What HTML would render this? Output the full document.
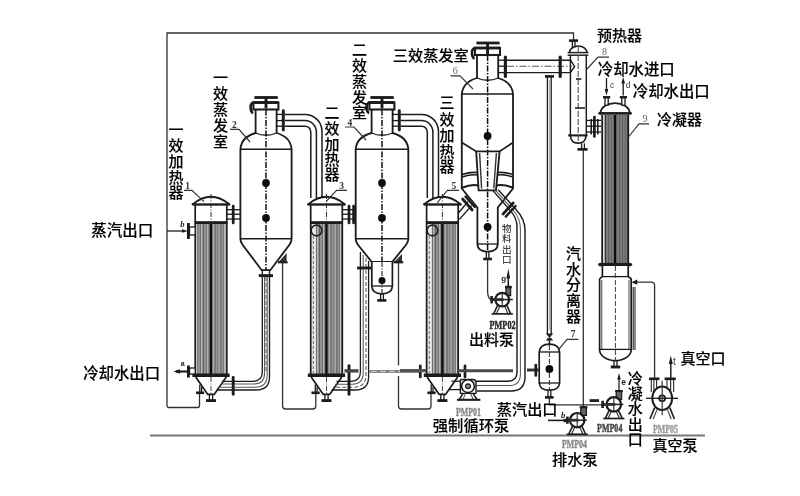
<!DOCTYPE html>
<html lang="zh"><head><meta charset="utf-8"><title>三效蒸发器流程图</title>
<style>
html,body{margin:0;padding:0;background:#fff;}
body{width:800px;height:496px;overflow:hidden;}
svg{display:block;}
.cj{font-family:"Liberation Sans","Noto Sans CJK SC",sans-serif;font-weight:500;fill:#000;stroke:#000;stroke-width:0.14px;}
.cjs{font-family:"Liberation Sans","Noto Sans CJK SC",sans-serif;font-weight:400;fill:#111;}
.smi{font-family:"Liberation Serif",serif;font-style:italic;font-weight:700;fill:#222;}
.sm{font-family:"Liberation Sans",sans-serif;font-weight:700;fill:#222;}
.num{font-family:"Liberation Serif",serif;fill:#333;font-weight:700;}
.numl{font-family:"Liberation Serif",serif;fill:#666;}
.sm2{font-family:"Liberation Sans",sans-serif;fill:#444;}
.pmp{font-family:"Liberation Serif",serif;font-weight:700;}
</style></head>
<body>
<svg width="800" height="496" viewBox="0 0 800 496">
<defs>
<filter id="soft" x="0" y="0" width="800" height="496" filterUnits="userSpaceOnUse"><feGaussianBlur stdDeviation="0.45"/></filter>
<pattern id="tubes" width="5.8" height="8" patternUnits="userSpaceOnUse">
<rect width="5.8" height="8" fill="#949494"/><rect x="0" width="1" height="8" fill="#606060"/><rect x="2.9" width="1" height="8" fill="#6c6c6c"/><rect x="3.9" width="0.9" height="8" fill="#bcbcbc"/>
</pattern>
<pattern id="tubes2" width="2.8" height="8" patternUnits="userSpaceOnUse" x="602.2">
<rect width="2.8" height="8" fill="#848484"/><rect x="0" width="1.2" height="8" fill="#5a5a5a"/>
</pattern>
</defs>
<rect width="800" height="496" fill="#fff"/>
<g filter="url(#soft)">
<line x1="150" y1="435.5" x2="705" y2="435.5" stroke="#777" stroke-width="2.08" />
<path d="M199.5,394 V405.5 Q199.5,407.5 197.5,407.5 H169 Q167,407.5 167,405.5 V33 H573.5 V40" stroke="#333" stroke-width="1.3" fill="none" />
<path d="M282.6,262 V406 Q282.6,409 285.6,409 H312.8 Q315.8,409 315.8,406 V393" stroke="#333" stroke-width="1.3" fill="none" />
<path d="M398.5,262 V365.5 M398.5,376 V406 Q398.5,409 401.5,409 H428 Q431,409 431,406 V393" stroke="#333" stroke-width="1.3" fill="none" />
<rect x="195.2" y="223" width="31.6" height="151.5" stroke="none" stroke-width="0.0" fill="url(#tubes)" />
<line x1="196.7" y1="223" x2="196.7" y2="374" stroke="#d8d8d8" stroke-width="1.04" />
<line x1="225.10000000000002" y1="223" x2="225.10000000000002" y2="374" stroke="#d0d0d0" stroke-width="1.04" />
<line x1="195.2" y1="223" x2="195.2" y2="374" stroke="#1a1a1a" stroke-width="1.69" />
<line x1="226.8" y1="223" x2="226.8" y2="374" stroke="#1a1a1a" stroke-width="1.69" />
<line x1="211" y1="223" x2="211" y2="374" stroke="#0a0a0a" stroke-width="2.21" />
<rect x="195.2" y="204.5" width="31.6" height="18" stroke="#1a1a1a" stroke-width="1.69" fill="#fff" />
<line x1="194.7" y1="222.6" x2="227.3" y2="222.6" stroke="#1a1a1a" stroke-width="2.69" />
<path d="M193.2,204 Q211,189.6 228.8,204" stroke="#1a1a1a" stroke-width="1.82" fill="none" />
<line x1="192.7" y1="204.5" x2="229.3" y2="204.5" stroke="#1a1a1a" stroke-width="2.08" />
<circle cx="193.0" cy="204.3" r="1.3" stroke="none" stroke-width="0.0" fill="#1a1a1a"/>
<circle cx="229.0" cy="204.3" r="1.3" stroke="none" stroke-width="0.0" fill="#1a1a1a"/>
<line x1="211" y1="194" x2="211" y2="222" stroke="#333" stroke-width="1.04" stroke-dasharray="5 1.5 1 1.5"/>
<line x1="192.39999999999998" y1="375.2" x2="229.60000000000002" y2="375.2" stroke="#1a1a1a" stroke-width="3.36" />
<path d="M195.7,377 L207.8,394.4 H214.2 L226.3,377" stroke="#1a1a1a" stroke-width="1.69" fill="none" />
<line x1="209.4" y1="394.4" x2="209.4" y2="400" stroke="#1a1a1a" stroke-width="1.3" />
<line x1="212.6" y1="394.4" x2="212.6" y2="400" stroke="#1a1a1a" stroke-width="1.3" />
<line x1="206" y1="400.6" x2="216" y2="400.6" stroke="#1a1a1a" stroke-width="2.86" />
<line x1="211" y1="377" x2="211" y2="394" stroke="#333" stroke-width="0.91" stroke-dasharray="5 1.5 1 1.5"/>
<line x1="199.8" y1="384.5" x2="199.8" y2="392" stroke="#1a1a1a" stroke-width="1.3" />
<line x1="201.6" y1="387" x2="201.6" y2="392" stroke="#1a1a1a" stroke-width="1.3" />
<line x1="196" y1="392.8" x2="204.2" y2="392.8" stroke="#1a1a1a" stroke-width="2.6" />
<rect x="310.7" y="223" width="31.6" height="151.5" stroke="none" stroke-width="0.0" fill="url(#tubes)" />
<rect x="311.3" y="223.5" width="4.6" height="150.5" stroke="none" stroke-width="0.0" fill="#e9e9e9" />
<line x1="313.3" y1="236" x2="313.3" y2="373" stroke="#666" stroke-width="1.04" stroke-dasharray="3 2"/>
<line x1="312.2" y1="223" x2="312.2" y2="374" stroke="#d8d8d8" stroke-width="1.04" />
<line x1="340.6" y1="223" x2="340.6" y2="374" stroke="#d0d0d0" stroke-width="1.04" />
<line x1="310.7" y1="223" x2="310.7" y2="374" stroke="#1a1a1a" stroke-width="1.69" />
<line x1="342.3" y1="223" x2="342.3" y2="374" stroke="#1a1a1a" stroke-width="1.69" />
<line x1="326.5" y1="223" x2="326.5" y2="374" stroke="#0a0a0a" stroke-width="2.21" />
<rect x="310.7" y="204.5" width="31.6" height="18" stroke="#1a1a1a" stroke-width="1.69" fill="#fff" />
<line x1="310.2" y1="222.6" x2="342.8" y2="222.6" stroke="#1a1a1a" stroke-width="2.69" />
<path d="M308.7,204 Q326.5,189.6 344.3,204" stroke="#1a1a1a" stroke-width="1.82" fill="none" />
<line x1="308.2" y1="204.5" x2="344.8" y2="204.5" stroke="#1a1a1a" stroke-width="2.08" />
<circle cx="308.5" cy="204.3" r="1.3" stroke="none" stroke-width="0.0" fill="#1a1a1a"/>
<circle cx="344.5" cy="204.3" r="1.3" stroke="none" stroke-width="0.0" fill="#1a1a1a"/>
<line x1="326.5" y1="194" x2="326.5" y2="222" stroke="#333" stroke-width="1.04" stroke-dasharray="5 1.5 1 1.5"/>
<circle cx="316.5" cy="230.5" r="5.4" stroke="#1a1a1a" stroke-width="1.56" fill="none"/>
<line x1="307.9" y1="375.2" x2="345.1" y2="375.2" stroke="#1a1a1a" stroke-width="3.36" />
<path d="M311.2,377 L323.3,394.4 H329.7 L341.8,377" stroke="#1a1a1a" stroke-width="1.69" fill="none" />
<line x1="324.9" y1="394.4" x2="324.9" y2="400" stroke="#1a1a1a" stroke-width="1.3" />
<line x1="328.1" y1="394.4" x2="328.1" y2="400" stroke="#1a1a1a" stroke-width="1.3" />
<line x1="321.5" y1="400.6" x2="331.5" y2="400.6" stroke="#1a1a1a" stroke-width="2.86" />
<line x1="326.5" y1="377" x2="326.5" y2="394" stroke="#333" stroke-width="0.91" stroke-dasharray="5 1.5 1 1.5"/>
<line x1="315.3" y1="384.5" x2="315.3" y2="392" stroke="#1a1a1a" stroke-width="1.3" />
<line x1="317.1" y1="387" x2="317.1" y2="392" stroke="#1a1a1a" stroke-width="1.3" />
<line x1="311.5" y1="392.8" x2="319.7" y2="392.8" stroke="#1a1a1a" stroke-width="2.6" />
<rect x="426.59999999999997" y="223" width="31.6" height="151.5" stroke="none" stroke-width="0.0" fill="url(#tubes)" />
<rect x="427.2" y="223.5" width="4.6" height="150.5" stroke="none" stroke-width="0.0" fill="#e9e9e9" />
<line x1="429.2" y1="236" x2="429.2" y2="373" stroke="#666" stroke-width="1.04" stroke-dasharray="3 2"/>
<line x1="428.09999999999997" y1="223" x2="428.09999999999997" y2="374" stroke="#d8d8d8" stroke-width="1.04" />
<line x1="456.5" y1="223" x2="456.5" y2="374" stroke="#d0d0d0" stroke-width="1.04" />
<line x1="426.59999999999997" y1="223" x2="426.59999999999997" y2="374" stroke="#1a1a1a" stroke-width="1.69" />
<line x1="458.2" y1="223" x2="458.2" y2="374" stroke="#1a1a1a" stroke-width="1.69" />
<line x1="442.4" y1="223" x2="442.4" y2="374" stroke="#0a0a0a" stroke-width="2.21" />
<rect x="426.59999999999997" y="204.5" width="31.6" height="18" stroke="#1a1a1a" stroke-width="1.69" fill="#fff" />
<line x1="426.09999999999997" y1="222.6" x2="458.7" y2="222.6" stroke="#1a1a1a" stroke-width="2.69" />
<path d="M424.59999999999997,204 Q442.4,189.6 460.2,204" stroke="#1a1a1a" stroke-width="1.82" fill="none" />
<line x1="424.09999999999997" y1="204.5" x2="460.7" y2="204.5" stroke="#1a1a1a" stroke-width="2.08" />
<circle cx="424.4" cy="204.3" r="1.3" stroke="none" stroke-width="0.0" fill="#1a1a1a"/>
<circle cx="460.4" cy="204.3" r="1.3" stroke="none" stroke-width="0.0" fill="#1a1a1a"/>
<line x1="442.4" y1="194" x2="442.4" y2="222" stroke="#333" stroke-width="1.04" stroke-dasharray="5 1.5 1 1.5"/>
<circle cx="432.4" cy="230.5" r="5.4" stroke="#1a1a1a" stroke-width="1.56" fill="none"/>
<line x1="423.79999999999995" y1="375.2" x2="461.0" y2="375.2" stroke="#1a1a1a" stroke-width="3.36" />
<path d="M427.09999999999997,377 L439.2,394.4 H445.59999999999997 L457.7,377" stroke="#1a1a1a" stroke-width="1.69" fill="none" />
<line x1="440.79999999999995" y1="394.4" x2="440.79999999999995" y2="400" stroke="#1a1a1a" stroke-width="1.3" />
<line x1="444.0" y1="394.4" x2="444.0" y2="400" stroke="#1a1a1a" stroke-width="1.3" />
<line x1="437.4" y1="400.6" x2="447.4" y2="400.6" stroke="#1a1a1a" stroke-width="2.86" />
<line x1="442.4" y1="377" x2="442.4" y2="394" stroke="#333" stroke-width="0.91" stroke-dasharray="5 1.5 1 1.5"/>
<line x1="431.2" y1="384.5" x2="431.2" y2="392" stroke="#1a1a1a" stroke-width="1.3" />
<line x1="433.0" y1="387" x2="433.0" y2="392" stroke="#1a1a1a" stroke-width="1.3" />
<line x1="427.4" y1="392.8" x2="435.59999999999997" y2="392.8" stroke="#1a1a1a" stroke-width="2.6" />
<line x1="167" y1="231" x2="184" y2="231" stroke="#1a1a1a" stroke-width="1.3" />
<path d="M188,231 L182,229.2 V232.8 Z" stroke="none" stroke-width="0.0" fill="#1a1a1a" />
<line x1="188.4" y1="223" x2="188.4" y2="239" stroke="#1a1a1a" stroke-width="2.86" />
<rect x="189.5" y="227" width="5.7" height="8" stroke="#1a1a1a" stroke-width="1.3" fill="#fff" />
<text x="182.4" y="227" font-size="8.5" text-anchor="middle" class="smi" >b</text>
<line x1="176" y1="371.5" x2="188" y2="371.5" stroke="#1a1a1a" stroke-width="2.08" />
<path d="M173.5,371.5 L180,369.3 V373.7 Z" stroke="none" stroke-width="0.0" fill="#1a1a1a" />
<line x1="188.4" y1="365.5" x2="188.4" y2="377.5" stroke="#1a1a1a" stroke-width="2.86" />
<rect x="189.5" y="368" width="5.7" height="6" stroke="#1a1a1a" stroke-width="1.3" fill="#fff" />
<text x="182.6" y="366" font-size="7" text-anchor="middle" class="sm" >a</text>
<line x1="226.8" y1="209.7" x2="240.5" y2="209.7" stroke="#1a1a1a" stroke-width="1.3" />
<line x1="226.8" y1="214.2" x2="240.5" y2="214.2" stroke="#1a1a1a" stroke-width="1.3" />
<line x1="226.8" y1="219" x2="240.5" y2="219" stroke="#1a1a1a" stroke-width="1.3" />
<line x1="233.2" y1="206" x2="233.2" y2="223" stroke="#1a1a1a" stroke-width="2.69" stroke-linecap="round"/>
<line x1="342.3" y1="209.7" x2="355.6" y2="209.7" stroke="#1a1a1a" stroke-width="1.3" />
<line x1="342.3" y1="214.2" x2="355.6" y2="214.2" stroke="#1a1a1a" stroke-width="1.3" />
<line x1="342.3" y1="219" x2="355.6" y2="219" stroke="#1a1a1a" stroke-width="1.3" />
<line x1="349" y1="206" x2="349" y2="223" stroke="#1a1a1a" stroke-width="2.69" stroke-linecap="round"/>
<line x1="353.6" y1="206" x2="353.6" y2="223" stroke="#1a1a1a" stroke-width="2.69" stroke-linecap="round"/>
<path d="M255.6,109.5 V133 Q241.4,137 240.4,149.2 V238.8 Q240.4,242 242.4,244.5 L261.7,270.2 H270.3 L289.6,244.5 Q291.6,242 291.6,238.8 V149.2 Q290.6,137 276.6,133 V109.5" stroke="#1a1a1a" stroke-width="1.82" fill="#fff" />
<line x1="240.4" y1="149.2" x2="291.6" y2="149.2" stroke="#1a1a1a" stroke-width="1.43" />
<line x1="240.4" y1="238.8" x2="291.6" y2="238.8" stroke="#1a1a1a" stroke-width="1.56" />
<path d="M255.6,133 Q266,137.5 276.6,133" stroke="#1a1a1a" stroke-width="1.3" fill="none" />
<line x1="266" y1="109.5" x2="266" y2="270" stroke="#111" stroke-width="1.49" stroke-dasharray="6 1.5 1.5 1.5"/>
<circle cx="266" cy="183" r="3.9" stroke="none" stroke-width="0.0" fill="#111"/>
<circle cx="266" cy="218" r="3.9" stroke="none" stroke-width="0.0" fill="#111"/>
<line x1="254.4" y1="97.5" x2="277.8" y2="97.5" stroke="#1a1a1a" stroke-width="2.8" />
<line x1="266" y1="97.5" x2="266" y2="108.5" stroke="#1a1a1a" stroke-width="2.86" />
<line x1="252.5" y1="102.5" x2="278.4" y2="102.5" stroke="#1a1a1a" stroke-width="2.8" />
<path d="M253.6,102.5 Q250,103.5 250.7,108.5 Q251,112.5 253.2,113.0" stroke="#1a1a1a" stroke-width="2.58" fill="none" />
<rect x="253.4" y="102.5" width="25" height="7" stroke="#1a1a1a" stroke-width="2.08" fill="none" />
<line x1="276.6" y1="114.4" x2="283" y2="114.4" stroke="#1a1a1a" stroke-width="1.3" />
<line x1="276.6" y1="120.6" x2="283" y2="120.6" stroke="#1a1a1a" stroke-width="1.3" />
<line x1="276.6" y1="126.2" x2="283" y2="126.2" stroke="#1a1a1a" stroke-width="1.3" />
<line x1="283.3" y1="110.8" x2="283.3" y2="130" stroke="#1a1a1a" stroke-width="2.91" stroke-linecap="round"/>
<path d="M371.6,109.5 V133 Q356.7,137 355.7,149.2 V238.8 Q355.7,242 357.7,244.5 L371.8,262 H392.2 L406.3,244.5 Q408.3,242 408.3,238.8 V149.2 Q407.3,137 392.6,133 V109.5" stroke="#1a1a1a" stroke-width="1.82" fill="#fff" />
<line x1="355.7" y1="149.2" x2="408.3" y2="149.2" stroke="#1a1a1a" stroke-width="1.43" />
<line x1="355.7" y1="238.8" x2="408.3" y2="238.8" stroke="#1a1a1a" stroke-width="1.56" />
<path d="M371.6,133 Q382,137.5 392.6,133" stroke="#1a1a1a" stroke-width="1.3" fill="none" />
<line x1="382" y1="109.5" x2="382" y2="294" stroke="#111" stroke-width="1.49" stroke-dasharray="6 1.5 1.5 1.5"/>
<circle cx="382" cy="183" r="3.9" stroke="none" stroke-width="0.0" fill="#111"/>
<circle cx="382" cy="218" r="3.9" stroke="none" stroke-width="0.0" fill="#111"/>
<line x1="370.4" y1="97.5" x2="393.8" y2="97.5" stroke="#1a1a1a" stroke-width="2.8" />
<line x1="382" y1="97.5" x2="382" y2="108.5" stroke="#1a1a1a" stroke-width="2.86" />
<line x1="368.5" y1="102.5" x2="394.4" y2="102.5" stroke="#1a1a1a" stroke-width="2.8" />
<path d="M369.6,102.5 Q366,103.5 366.7,108.5 Q367,112.5 369.2,113.0" stroke="#1a1a1a" stroke-width="2.58" fill="none" />
<rect x="369.4" y="102.5" width="25" height="7" stroke="#1a1a1a" stroke-width="2.08" fill="none" />
<line x1="392.6" y1="114.4" x2="399" y2="114.4" stroke="#1a1a1a" stroke-width="1.3" />
<line x1="392.6" y1="120.6" x2="399" y2="120.6" stroke="#1a1a1a" stroke-width="1.3" />
<line x1="392.6" y1="126.2" x2="399" y2="126.2" stroke="#1a1a1a" stroke-width="1.3" />
<line x1="399.3" y1="110.8" x2="399.3" y2="130" stroke="#1a1a1a" stroke-width="2.91" stroke-linecap="round"/>
<line x1="258.8" y1="275.6" x2="273" y2="275.6" stroke="#1a1a1a" stroke-width="2.91" />
<line x1="262.3" y1="270.2" x2="262.3" y2="274.5" stroke="#1a1a1a" stroke-width="1.3" />
<line x1="269.5" y1="270.2" x2="269.5" y2="274.5" stroke="#1a1a1a" stroke-width="1.3" />
<path d="M262.3,277 V372 Q262.3,381.3 253,381.3 H222" stroke="#1a1a1a" stroke-width="1.3" fill="none" />
<path d="M269.5,277 V377 Q269.5,390 256,390 H217" stroke="#1a1a1a" stroke-width="1.3" fill="none" />
<path d="M264.6,277 V373 Q264.6,384 254,384 H221" stroke="#555" stroke-width="1.04" fill="none" />
<path d="M267.2,277 V375 Q267.2,387.3 255,387.3 H219" stroke="#555" stroke-width="1.04" fill="none" />
<line x1="266" y1="277" x2="266" y2="372" stroke="#555" stroke-width="0.91" stroke-dasharray="4 2"/>
<line x1="233.2" y1="377.5" x2="233.2" y2="394.2" stroke="#1a1a1a" stroke-width="2.91" stroke-linecap="round"/>
<path d="M278.4,262.2 L286.6,253 V262.2 Z" stroke="none" stroke-width="0.0" fill="#333" />
<line x1="278" y1="262.3" x2="287.6" y2="262.3" stroke="#1a1a1a" stroke-width="2.08" />
<path d="M371.8,262 V286 Q372,293.8 382,293.8 Q392,293.8 392.4,286 V262" stroke="#1a1a1a" stroke-width="1.69" fill="#fff" />
<line x1="371.8" y1="286" x2="392.4" y2="286" stroke="#1a1a1a" stroke-width="1.3" />
<line x1="382" y1="262" x2="382" y2="294" stroke="#333" stroke-width="1.17" stroke-dasharray="5 1.5 1 1.5"/>
<circle cx="382" cy="280.6" r="3.5" stroke="none" stroke-width="0.0" fill="#111"/>
<line x1="380.6" y1="294" x2="380.6" y2="300" stroke="#1a1a1a" stroke-width="1.3" />
<line x1="383.4" y1="294" x2="383.4" y2="300" stroke="#1a1a1a" stroke-width="1.3" />
<line x1="377.2" y1="300.4" x2="386.4" y2="300.4" stroke="#1a1a1a" stroke-width="2.6" />
<path d="M360.4,252 V372 Q360.4,381.3 351,381.3 H336.5" stroke="#1a1a1a" stroke-width="1.3" fill="none" />
<path d="M368.6,261 V377 Q368.6,390 355,390 H331.5" stroke="#1a1a1a" stroke-width="1.3" fill="none" />
<path d="M363.2,255 V373 Q363.2,384.2 352,384.2 H335" stroke="#555" stroke-width="1.04" fill="none" />
<path d="M366,258 V375 Q366,387.2 353,387.2 H333" stroke="#555" stroke-width="1.04" fill="none" stroke-dasharray="4 2"/>
<line x1="357" y1="268" x2="371" y2="268" stroke="#1a1a1a" stroke-width="2.86" />
<line x1="349" y1="365.8" x2="349" y2="394.4" stroke="#1a1a1a" stroke-width="2.91" stroke-linecap="round"/>
<path d="M394,262.2 L402,254 V262.2 Z" stroke="none" stroke-width="0.0" fill="#333" />
<line x1="393.6" y1="262.3" x2="403.2" y2="262.3" stroke="#1a1a1a" stroke-width="2.08" />
<line x1="344.5" y1="370.9" x2="358.5" y2="370.9" stroke="#444" stroke-width="3.36" />
<line x1="369.5" y1="371.5" x2="420" y2="371.5" stroke="#6a6a6a" stroke-width="2.69" />
<line x1="371" y1="371.5" x2="419" y2="371.5" stroke="#ccc" stroke-width="0.91" stroke-dasharray="6 3"/>
<line x1="420.3" y1="365.8" x2="420.3" y2="377" stroke="#1a1a1a" stroke-width="2.69" stroke-linecap="round"/>
<line x1="465" y1="365.8" x2="465" y2="377" stroke="#1a1a1a" stroke-width="2.69" stroke-linecap="round"/>
<line x1="458" y1="370.8" x2="513" y2="370.8" stroke="#4a4a4a" stroke-width="3.14" />
<line x1="400" y1="370.6" x2="426" y2="370.6" stroke="#555" stroke-width="3.14" />
<path d="M284.5,114.4 H305 A17,17 0 0 1 322,131.4 V198" stroke="#1a1a1a" stroke-width="1.49" fill="none" />
<path d="M284.5,120.6 H305 A11.4,11.4 0 0 1 316.4,132.0 V198" stroke="#1a1a1a" stroke-width="1.49" fill="none" />
<path d="M284.5,126.2 H305 A5.8,5.8 0 0 1 310.8,132.0 V198" stroke="#1a1a1a" stroke-width="1.49" fill="none" />
<path d="M400.5,114.4 H421.5 A17,17 0 0 1 438.5,131.4 V198" stroke="#1a1a1a" stroke-width="1.49" fill="none" />
<path d="M400.5,120.6 H421.5 A11.4,11.4 0 0 1 432.9,132.0 V198" stroke="#1a1a1a" stroke-width="1.49" fill="none" />
<path d="M400.5,126.2 H421.5 A5.8,5.8 0 0 1 427.3,132.0 V198" stroke="#1a1a1a" stroke-width="1.49" fill="none" />
<path d="M477,55 V78 Q463,82 461.8,94 V188.5 L477.4,207.5 V244 Q477.6,251.6 487.6,251.6 Q497.6,251.6 497.8,244 V207.5 L513,188.5 V94 Q512,82 498.2,78 V55" stroke="#1a1a1a" stroke-width="1.82" fill="#fff" />
<line x1="461.8" y1="94" x2="513" y2="94" stroke="#1a1a1a" stroke-width="1.43" />
<path d="M477,78 Q487.6,82.5 498.2,78" stroke="#1a1a1a" stroke-width="1.3" fill="none" />
<line x1="477.4" y1="244" x2="497.8" y2="244" stroke="#1a1a1a" stroke-width="1.3" />
<line x1="476.4" y1="43" x2="499.6" y2="43" stroke="#1a1a1a" stroke-width="2.8" />
<line x1="487.6" y1="43" x2="487.6" y2="54" stroke="#1a1a1a" stroke-width="2.86" />
<line x1="474" y1="48" x2="500.4" y2="48" stroke="#1a1a1a" stroke-width="2.8" />
<path d="M475,48 Q471.4,49 472,54 Q472.4,58 474.6,58.5" stroke="#1a1a1a" stroke-width="2.58" fill="none" />
<rect x="475" y="48" width="25" height="7" stroke="#1a1a1a" stroke-width="2.08" fill="none" />
<line x1="487.6" y1="55" x2="487.6" y2="251" stroke="#111" stroke-width="1.49" stroke-dasharray="6 1.5 1.5 1.5"/>
<circle cx="487.6" cy="136" r="3.9" stroke="none" stroke-width="0.0" fill="#111"/>
<circle cx="487.6" cy="227" r="3.9" stroke="none" stroke-width="0.0" fill="#111"/>
<path d="M461.8,142.5 L476.2,151.4 H499.6 L513,142.5" stroke="#1a1a1a" stroke-width="1.69" fill="none" />
<path d="M476.2,151.4 L478.6,190.4 H496 L499.6,151.4" stroke="#1a1a1a" stroke-width="1.82" fill="none" />
<path d="M479.6,153 L481.6,188.5 M496.4,153 L493.8,188.5" stroke="#333" stroke-width="1.43" fill="none" />
<path d="M462,174.6 Q471,171.6 477.6,172.6 M462,177 Q471,174 477.8,175" stroke="#1a1a1a" stroke-width="1.56" fill="none" />
<path d="M513,174.6 Q504,171.6 497.8,172.6 M513,177 Q504,174 497.6,175" stroke="#1a1a1a" stroke-width="1.56" fill="none" />
<path d="M462,187.8 Q471,184 478.4,185.4" stroke="#1a1a1a" stroke-width="2.08" fill="none" />
<path d="M513,187.8 Q504,184 496.2,185.4" stroke="#1a1a1a" stroke-width="2.08" fill="none" />
<line x1="486.3" y1="251.6" x2="486.3" y2="258.5" stroke="#1a1a1a" stroke-width="1.3" />
<line x1="488.9" y1="251.6" x2="488.9" y2="258.5" stroke="#1a1a1a" stroke-width="1.3" />
<line x1="483.2" y1="259" x2="492" y2="259" stroke="#1a1a1a" stroke-width="2.6" />
<path d="M458.4,213 L468,201.6 M459.4,219.4 L471.6,205.6" stroke="#1a1a1a" stroke-width="1.43" fill="none" />
<path d="M462.6,199 L472.2,210" stroke="#1a1a1a" stroke-width="2.69" fill="none" stroke-linecap="round"/>
<path d="M465.6,196.6 L474.8,207" stroke="#1a1a1a" stroke-width="2.34" fill="none" stroke-linecap="round"/>
<path d="M493,190.6 L510.4,210.6 Q517,218 517,227 V372 Q517,381.2 508,381.2 H475.5" stroke="#1a1a1a" stroke-width="1.43" fill="none" />
<path d="M498.2,189.8 L516,209.4 Q525,219 525,230 V377 Q525,391 511,391 H477" stroke="#1a1a1a" stroke-width="1.43" fill="none" />
<path d="M495.6,190.4 L513,210 Q520.4,218.4 520.4,229 V374 Q520.4,385.6 509,385.6 H476" stroke="#555" stroke-width="1.04" fill="none" />
<path d="M503,214 L513.2,203" stroke="#1a1a1a" stroke-width="2.69" fill="none" stroke-linecap="round"/>
<path d="M505.8,216.6 L515.6,206" stroke="#1a1a1a" stroke-width="2.34" fill="none" stroke-linecap="round"/>
<line x1="498.2" y1="60.2" x2="505" y2="60.2" stroke="#1a1a1a" stroke-width="1.3" />
<line x1="498.2" y1="66.2" x2="505" y2="66.2" stroke="#1a1a1a" stroke-width="1.3" />
<line x1="498.2" y1="72.6" x2="505" y2="72.6" stroke="#1a1a1a" stroke-width="1.3" />
<line x1="505.4" y1="57" x2="505.4" y2="76.4" stroke="#1a1a1a" stroke-width="3.14" stroke-linecap="round"/>
<line x1="506.5" y1="60.2" x2="570" y2="60.2" stroke="#1a1a1a" stroke-width="1.43" />
<line x1="506.5" y1="72.6" x2="570" y2="72.6" stroke="#1a1a1a" stroke-width="1.43" />
<line x1="507" y1="66.3" x2="572" y2="66.3" stroke="#555" stroke-width="1.04" stroke-dasharray="7 2 1.5 2"/>
<line x1="560.2" y1="57" x2="560.2" y2="76.4" stroke="#1a1a1a" stroke-width="3.14" stroke-linecap="round"/>
<path d="M487.6,259.5 V291 Q487.6,299.5 492,299.8" stroke="#333" stroke-width="1.3" fill="none" />
<rect x="506" y="287.5" width="4.6" height="8" stroke="#1a1a1a" stroke-width="1.3" fill="#666" />
<path d="M497.59999999999997,305.20000000000005 L493.8,313.6 M506.8,305.20000000000005 L510.59999999999997,313.6" stroke="#1a1a1a" stroke-width="1.56" fill="none" />
<path d="M499.8,306.00000000000006 L496.59999999999997,313.6 M504.59999999999997,306.00000000000006 L507.8,313.6" stroke="#333" stroke-width="1.17" fill="none" />
<line x1="491.59999999999997" y1="313.90000000000003" x2="512.8" y2="313.90000000000003" stroke="#1a1a1a" stroke-width="1.69" />
<circle cx="502.2" cy="299.6" r="6.8" stroke="#1a1a1a" stroke-width="2.21" fill="#fff"/>
<line x1="502.2" y1="292.8" x2="502.2" y2="306.40000000000003" stroke="#333" stroke-width="1.17" />
<line x1="491.59999999999997" y1="299.6" x2="512.8" y2="299.6" stroke="#1a1a1a" stroke-width="1.43" />
<line x1="491.59999999999997" y1="299.6" x2="503.7" y2="299.6" stroke="#333" stroke-width="2.91" />
<line x1="491.6" y1="296" x2="491.6" y2="303.4" stroke="#1a1a1a" stroke-width="2.6" />
<line x1="505" y1="287" x2="511.8" y2="287" stroke="#1a1a1a" stroke-width="2.34" />
<line x1="508.3" y1="276" x2="508.3" y2="287" stroke="#1a1a1a" stroke-width="1.56" />
<path d="M508.3,268.6 L506.5,278.4 H510.1 Z" stroke="none" stroke-width="0.0" fill="#1a1a1a" />
<text x="503.8" y="281" font-size="8" text-anchor="middle" class="sm" >g</text>
<path d="M461,379.5 H473 Q476,379.5 476,383 V393.4 H460.4 V380.4 Z" stroke="#1a1a1a" stroke-width="1.43" fill="#fff" />
<circle cx="468" cy="386.2" r="6.4" stroke="#1a1a1a" stroke-width="1.56" fill="#fff"/>
<circle cx="468" cy="386.2" r="2.4" stroke="#1a1a1a" stroke-width="1.17" fill="#888"/>
<path d="M463,393.4 L459.4,399.4 M473,393.4 L477,399.4" stroke="#1a1a1a" stroke-width="1.56" fill="none" />
<path d="M465.6,393.4 L463,399.4 M470.4,393.4 L473.4,399.4" stroke="#555" stroke-width="1.04" fill="none" />
<line x1="457" y1="399.8" x2="480.4" y2="399.8" stroke="#1a1a1a" stroke-width="2.08" />
<line x1="451.5" y1="381.2" x2="460.4" y2="381.2" stroke="#1a1a1a" stroke-width="1.3" />
<line x1="449" y1="389.6" x2="460.4" y2="389.6" stroke="#1a1a1a" stroke-width="1.3" />
<line x1="545" y1="76.4" x2="554" y2="76.4" stroke="#1a1a1a" stroke-width="2.6" />
<line x1="547.4" y1="77" x2="547.4" y2="334" stroke="#1a1a1a" stroke-width="1.3" />
<line x1="551.2" y1="77" x2="551.2" y2="334" stroke="#1a1a1a" stroke-width="1.3" />
<line x1="549.3" y1="80" x2="549.3" y2="330" stroke="#888" stroke-width="0.78" />
<path d="M547,334 H552 L547,340 H552 Z" stroke="#1a1a1a" stroke-width="1.17" fill="#333" />
<line x1="549.4" y1="340" x2="549.4" y2="344.6" stroke="#1a1a1a" stroke-width="1.56" />
<line x1="569" y1="40.6" x2="578" y2="40.6" stroke="#1a1a1a" stroke-width="2.6" />
<line x1="572.4" y1="41" x2="572.4" y2="48.6" stroke="#1a1a1a" stroke-width="1.3" />
<line x1="575" y1="41" x2="575" y2="47.6" stroke="#1a1a1a" stroke-width="1.3" />
<path d="M570.4,135 V55 M586.3,55 V135" stroke="#1a1a1a" stroke-width="1.43" fill="none" />
<path d="M569.6,52.4 A8.6,6.4 0 0 1 586.8,52.4" stroke="#1a1a1a" stroke-width="1.56" fill="none" />
<line x1="567.6" y1="52.6" x2="588.4" y2="52.6" stroke="#1a1a1a" stroke-width="1.43" />
<line x1="567.6" y1="55.2" x2="588.4" y2="55.2" stroke="#1a1a1a" stroke-width="1.43" />
<line x1="568.2" y1="135.4" x2="587.6" y2="135.4" stroke="#1a1a1a" stroke-width="2.08" />
<path d="M570.4,136 Q571,143.2 578.2,143.2 Q585.4,143.2 586,136" stroke="#1a1a1a" stroke-width="1.69" fill="none" />
<line x1="578.2" y1="47" x2="578.2" y2="143" stroke="#444" stroke-width="1.04" stroke-dasharray="6 2"/>
<line x1="576" y1="79" x2="581.4" y2="79" stroke="#1a1a1a" stroke-width="1.56" />
<line x1="575" y1="108" x2="585" y2="108" stroke="#1a1a1a" stroke-width="1.56" />
<path d="M570.4,60.2 L574.6,66.4 L570.4,72.6" stroke="#1a1a1a" stroke-width="1.43" fill="none" />
<line x1="581.6" y1="143.4" x2="581.6" y2="149" stroke="#1a1a1a" stroke-width="1.3" />
<line x1="584.4" y1="143.4" x2="584.4" y2="149" stroke="#1a1a1a" stroke-width="1.3" />
<line x1="577.4" y1="149.4" x2="587.6" y2="149.4" stroke="#1a1a1a" stroke-width="2.6" />
<line x1="583.3" y1="150" x2="583.3" y2="407" stroke="#333" stroke-width="1.3" />
<line x1="586" y1="120.4" x2="601" y2="120.4" stroke="#1a1a1a" stroke-width="1.3" />
<line x1="586" y1="126.2" x2="601" y2="126.2" stroke="#1a1a1a" stroke-width="1.3" />
<line x1="586" y1="132" x2="601" y2="132" stroke="#1a1a1a" stroke-width="1.3" />
<line x1="594.4" y1="117" x2="594.4" y2="136.4" stroke="#1a1a1a" stroke-width="2.69" stroke-linecap="round"/>
<line x1="591.2" y1="119" x2="591.2" y2="134.4" stroke="#1a1a1a" stroke-width="1.56" />
<line x1="597.8" y1="119" x2="597.8" y2="134.4" stroke="#1a1a1a" stroke-width="1.56" />
<rect x="602.2" y="115" width="26" height="149" stroke="none" stroke-width="0.0" fill="url(#tubes2)" />
<rect x="603" y="115" width="1.9" height="149" stroke="none" stroke-width="0.0" fill="#f2f2f2" />
<line x1="602.2" y1="115" x2="602.2" y2="264" stroke="#1a1a1a" stroke-width="1.82" />
<line x1="628.2" y1="115" x2="628.2" y2="264" stroke="#1a1a1a" stroke-width="1.82" />
<line x1="605.3" y1="115" x2="605.3" y2="264" stroke="#333" stroke-width="1.3" />
<line x1="615" y1="115" x2="615" y2="264" stroke="#0a0a0a" stroke-width="1.95" />
<path d="M600.4,112.6 A14.8,10.8 0 0 1 629.8,112.6" stroke="#1a1a1a" stroke-width="1.82" fill="#fff" />
<line x1="599.6" y1="113.4" x2="630.6" y2="113.4" stroke="#1a1a1a" stroke-width="2.69" />
<circle cx="599.6" cy="113.2" r="1.3" stroke="none" stroke-width="0.0" fill="#1a1a1a"/>
<circle cx="630.6" cy="113.2" r="1.3" stroke="none" stroke-width="0.0" fill="#1a1a1a"/>
<rect x="605" y="97.6" width="3.2" height="7.6" stroke="#1a1a1a" stroke-width="1.3" fill="#fff" />
<rect x="621.8" y="97.6" width="3.2" height="7.6" stroke="#1a1a1a" stroke-width="1.3" fill="#fff" />
<line x1="603" y1="97.2" x2="610.2" y2="97.2" stroke="#1a1a1a" stroke-width="2.34" />
<line x1="619.8" y1="97.2" x2="627" y2="97.2" stroke="#1a1a1a" stroke-width="2.34" />
<line x1="606.5" y1="78" x2="606.5" y2="92" stroke="#1a1a1a" stroke-width="1.3" />
<path d="M606.5,95.6 L604.7,89 H608.3 Z" stroke="none" stroke-width="0.0" fill="#1a1a1a" />
<line x1="623.2" y1="81" x2="623.2" y2="95.6" stroke="#1a1a1a" stroke-width="1.3" />
<path d="M623.2,77 L621.4,83.6 H625 Z" stroke="none" stroke-width="0.0" fill="#1a1a1a" />
<text x="612" y="88" font-size="8.5" text-anchor="middle" class="sm2" >c</text>
<text x="628" y="88.4" font-size="8.5" text-anchor="middle" class="sm2" >d</text>
<line x1="599.4" y1="264.6" x2="630.8" y2="264.6" stroke="#1a1a1a" stroke-width="3.36" />
<circle cx="599.4" cy="264.6" r="1.4" stroke="none" stroke-width="0.0" fill="#1a1a1a"/>
<circle cx="630.8" cy="264.6" r="1.4" stroke="none" stroke-width="0.0" fill="#1a1a1a"/>
<path d="M602.4,266 V276.4 L599.6,279 V349.4 A15.8,11.2 0 0 0 631.2,349.4 V279 L628.2,276.4 V266" stroke="#1a1a1a" stroke-width="1.69" fill="#fff" />
<line x1="602.4" y1="276.6" x2="628.2" y2="276.6" stroke="#1a1a1a" stroke-width="1.3" />
<path d="M601.8,280 V349.4 M629,280 V349.4" stroke="#555" stroke-width="1.04" fill="none" />
<line x1="599.8" y1="349.4" x2="631" y2="349.4" stroke="#1a1a1a" stroke-width="1.3" />
<line x1="615.4" y1="266" x2="615.4" y2="360" stroke="#444" stroke-width="1.04" stroke-dasharray="5 2"/>
<line x1="614" y1="360.6" x2="614" y2="366.4" stroke="#1a1a1a" stroke-width="1.3" />
<line x1="617" y1="360.6" x2="617" y2="366.4" stroke="#1a1a1a" stroke-width="1.3" />
<line x1="610.8" y1="367" x2="620.2" y2="367" stroke="#1a1a1a" stroke-width="2.86" />
<path d="M636,282.2 H651 Q654.6,282.2 654.6,286 V379" stroke="#333" stroke-width="1.3" fill="none" />
<path d="M631.6,282.2 L637.2,279.6 V284.8 Z" stroke="none" stroke-width="0.0" fill="#1a1a1a" />
<line x1="633.2" y1="287" x2="633.2" y2="350" stroke="#333" stroke-width="1.17" />
<line x1="635" y1="287" x2="635" y2="350" stroke="#333" stroke-width="1.17" />
<path d="M539.2,352 Q540,344.2 549.4,344.2 Q558.8,344.2 559.6,352 V383 Q559,390.2 549.4,390.2 Q539.8,390.2 539.2,383 Z" stroke="#1a1a1a" stroke-width="1.69" fill="#fff" />
<line x1="539.2" y1="352" x2="559.6" y2="352" stroke="#1a1a1a" stroke-width="1.3" />
<line x1="539.2" y1="383" x2="559.6" y2="383" stroke="#1a1a1a" stroke-width="1.3" />
<line x1="549.4" y1="345" x2="549.4" y2="390" stroke="#333" stroke-width="1.04" stroke-dasharray="5 2"/>
<circle cx="549.4" cy="369" r="3.9" stroke="none" stroke-width="0.0" fill="#111"/>
<line x1="527" y1="370" x2="539" y2="370" stroke="#333" stroke-width="2.91" />
<line x1="535.8" y1="365" x2="535.8" y2="375.4" stroke="#1a1a1a" stroke-width="2.69" stroke-linecap="round"/>
<line x1="548" y1="390.4" x2="548" y2="397" stroke="#1a1a1a" stroke-width="1.3" />
<line x1="550.8" y1="390.4" x2="550.8" y2="397" stroke="#1a1a1a" stroke-width="1.3" />
<line x1="545" y1="397.4" x2="553.6" y2="397.4" stroke="#1a1a1a" stroke-width="2.6" />
<path d="M549.4,398 V404.8 H602" stroke="#333" stroke-width="1.3" fill="none" />
<line x1="548" y1="420.4" x2="566" y2="420.4" stroke="#1a1a1a" stroke-width="1.56" />
<path d="M570,420.4 L563.6,418.4 V422.4 Z" stroke="none" stroke-width="0.0" fill="#1a1a1a" />
<text x="563" y="417.8" font-size="8.5" text-anchor="middle" class="smi" >b</text>
<rect x="580.8" y="407.4" width="5.6" height="8" stroke="#1a1a1a" stroke-width="1.3" fill="#666" />
<line x1="579.6" y1="407.2" x2="587.4" y2="407.2" stroke="#1a1a1a" stroke-width="2.08" />
<path d="M572.6,426.2 L568.8000000000001,434 M581.8000000000001,426.2 L585.6,434" stroke="#1a1a1a" stroke-width="1.56" fill="none" />
<path d="M574.8000000000001,427.0 L571.6,434 M579.6,427.0 L582.8000000000001,434" stroke="#333" stroke-width="1.17" fill="none" />
<line x1="566.6" y1="434.3" x2="587.8000000000001" y2="434.3" stroke="#1a1a1a" stroke-width="1.69" />
<circle cx="577.2" cy="420.2" r="7.2" stroke="#1a1a1a" stroke-width="2.21" fill="#fff"/>
<line x1="577.2" y1="413.0" x2="577.2" y2="427.4" stroke="#333" stroke-width="1.17" />
<line x1="566.4000000000001" y1="420.2" x2="586.8000000000001" y2="420.2" stroke="#1a1a1a" stroke-width="1.43" />
<line x1="566.4000000000001" y1="420.2" x2="578.7" y2="420.2" stroke="#333" stroke-width="2.91" />
<line x1="567.4" y1="416.6" x2="567.4" y2="423.8" stroke="#1a1a1a" stroke-width="2.6" />
<rect x="616.2" y="391.4" width="5.4" height="8" stroke="#1a1a1a" stroke-width="1.3" fill="#666" />
<line x1="615.2" y1="391" x2="622.8" y2="391" stroke="#1a1a1a" stroke-width="2.08" />
<path d="M609.1999999999999,410.4 L605.4,418.2 M618.4,410.4 L622.1999999999999,418.2" stroke="#1a1a1a" stroke-width="1.56" fill="none" />
<path d="M611.4,411.2 L608.1999999999999,418.2 M616.1999999999999,411.2 L619.4,418.2" stroke="#333" stroke-width="1.17" fill="none" />
<line x1="603.1999999999999" y1="418.5" x2="624.4" y2="418.5" stroke="#1a1a1a" stroke-width="1.69" />
<circle cx="613.8" cy="404.4" r="7.2" stroke="#1a1a1a" stroke-width="2.21" fill="#fff"/>
<line x1="613.8" y1="397.2" x2="613.8" y2="411.59999999999997" stroke="#333" stroke-width="1.17" />
<line x1="601.8" y1="404.4" x2="623.4" y2="404.4" stroke="#1a1a1a" stroke-width="1.43" />
<line x1="601.8" y1="404.4" x2="615.3" y2="404.4" stroke="#333" stroke-width="2.91" />
<line x1="602.6" y1="400.8" x2="602.6" y2="408" stroke="#1a1a1a" stroke-width="2.6" />
<line x1="589.6" y1="400.6" x2="599" y2="400.6" stroke="#222" stroke-width="2.86" />
<line x1="619" y1="377" x2="619" y2="391" stroke="#1a1a1a" stroke-width="1.3" />
<path d="M619,373 L617.2,379.6 H620.8 Z" stroke="none" stroke-width="0.0" fill="#1a1a1a" />
<text x="623.6" y="385" font-size="8.5" text-anchor="middle" class="sm" >e</text>
<line x1="651.3" y1="380" x2="651.3" y2="392" stroke="#333" stroke-width="1.17" />
<line x1="653.9" y1="380" x2="653.9" y2="392" stroke="#333" stroke-width="1.17" />
<line x1="656.6" y1="380" x2="656.6" y2="392" stroke="#333" stroke-width="1.17" />
<line x1="667" y1="380" x2="667" y2="392" stroke="#333" stroke-width="1.17" />
<line x1="670.6" y1="380" x2="670.6" y2="392" stroke="#333" stroke-width="1.17" />
<line x1="673.6" y1="380" x2="673.6" y2="392" stroke="#333" stroke-width="1.17" />
<line x1="649" y1="378.8" x2="659.4" y2="378.8" stroke="#1a1a1a" stroke-width="2.6" />
<line x1="664.6" y1="378.8" x2="675.8" y2="378.8" stroke="#1a1a1a" stroke-width="2.6" />
<ellipse cx="662.2" cy="398.3" rx="9.9" ry="11.8" stroke="#1a1a1a" stroke-width="1.95" fill="#fff"/>
<circle cx="662.2" cy="398.3" r="3" stroke="#1a1a1a" stroke-width="1.69" fill="none"/>
<line x1="646" y1="398.3" x2="678" y2="398.3" stroke="#1a1a1a" stroke-width="1.3" />
<line x1="662.2" y1="380.8" x2="662.2" y2="415.2" stroke="#333" stroke-width="1.17" />
<path d="M654.6,407.6 L650,419 M669.8,407.6 L674.4,419" stroke="#1a1a1a" stroke-width="1.56" fill="none" />
<path d="M657,409.6 L653.2,419 M667.4,409.6 L671.2,419" stroke="#444" stroke-width="1.17" fill="none" />
<line x1="670.8" y1="362" x2="670.8" y2="378" stroke="#1a1a1a" stroke-width="1.43" />
<path d="M670.8,355.4 L668.8,364 H672.8 Z" stroke="none" stroke-width="0.0" fill="#1a1a1a" />
<text x="674.4" y="365" font-size="10" text-anchor="middle" class="sm2" >t</text>
<path d="M184,190.4 L192,190.4 L204,201.6" stroke="#333" stroke-width="1.17" fill="none" />
<text x="187.6" y="188.6" font-size="9.5" text-anchor="middle" class="num" >1</text>
<path d="M230,129.4 L239,129.4 L250,142" stroke="#333" stroke-width="1.17" fill="none" />
<text x="234.4" y="128" font-size="9.5" text-anchor="middle" class="num" >2</text>
<path d="M347,190.4 L336.6,190.4 L326,201.6" stroke="#333" stroke-width="1.17" fill="none" />
<text x="341.6" y="188.6" font-size="9.5" text-anchor="middle" class="num" >3</text>
<path d="M345,127 L354,127 L366,140" stroke="#333" stroke-width="1.17" fill="none" />
<text x="349.8" y="125.8" font-size="9.5" text-anchor="middle" class="num" >4</text>
<path d="M459,190.4 L447.4,190.4 L437,203" stroke="#333" stroke-width="1.17" fill="none" />
<text x="453.8" y="188.6" font-size="9.5" text-anchor="middle" class="num" >5</text>
<path d="M450.6,75.8 L460,75.8 L473,89" stroke="#333" stroke-width="1.17" fill="none" />
<text x="455.2" y="74" font-size="10" text-anchor="middle" class="numl" >6</text>
<path d="M558,350.4 L567,339.4 L578.4,339.4" stroke="#333" stroke-width="1.17" fill="none" />
<text x="573" y="337" font-size="9.5" text-anchor="middle" class="num" >7</text>
<path d="M587,69 L598,57.2 L609,57.2" stroke="#333" stroke-width="1.17" fill="none" />
<text x="604.4" y="55.4" font-size="10" text-anchor="middle" class="numl" >8</text>
<path d="M649,123.8 L639,123.8 L628.4,137" stroke="#333" stroke-width="1.17" fill="none" />
<text x="645" y="122" font-size="10" text-anchor="middle" class="numl" >9</text>
<text x="176" y="135.4" font-size="15" text-anchor="middle" class="cj" >一</text>
<text x="176" y="151.0" font-size="15" text-anchor="middle" class="cj" >效</text>
<text x="176" y="167.2" font-size="15" text-anchor="middle" class="cj" >加</text>
<text x="176" y="182.8" font-size="15" text-anchor="middle" class="cj" >热</text>
<text x="176" y="198.2" font-size="15" text-anchor="middle" class="cj" >器</text>
<text x="220.6" y="83.4" font-size="15" text-anchor="middle" class="cj" >一</text>
<text x="220.6" y="99.4" font-size="15" text-anchor="middle" class="cj" >效</text>
<text x="220.6" y="115.4" font-size="15" text-anchor="middle" class="cj" >蒸</text>
<text x="220.6" y="131.4" font-size="15" text-anchor="middle" class="cj" >发</text>
<text x="220.6" y="147.4" font-size="15" text-anchor="middle" class="cj" >室</text>
<text x="332" y="118.4" font-size="15" text-anchor="middle" class="cj" >二</text>
<text x="332" y="134.4" font-size="15" text-anchor="middle" class="cj" >效</text>
<text x="332" y="149.8" font-size="15" text-anchor="middle" class="cj" >加</text>
<text x="332" y="165.0" font-size="15" text-anchor="middle" class="cj" >热</text>
<text x="332" y="180.4" font-size="15" text-anchor="middle" class="cj" >器</text>
<text x="359.6" y="55.4" font-size="15" text-anchor="middle" class="cj" >二</text>
<text x="359.6" y="71.4" font-size="15" text-anchor="middle" class="cj" >效</text>
<text x="359.6" y="87.0" font-size="15" text-anchor="middle" class="cj" >蒸</text>
<text x="359.6" y="102.8" font-size="15" text-anchor="middle" class="cj" >发</text>
<text x="359.6" y="118.4" font-size="15" text-anchor="middle" class="cj" >室</text>
<text x="447" y="108.4" font-size="15" text-anchor="middle" class="cj" >三</text>
<text x="447" y="125.4" font-size="15" text-anchor="middle" class="cj" >效</text>
<text x="447" y="141.4" font-size="15" text-anchor="middle" class="cj" >加</text>
<text x="447" y="156.8" font-size="15" text-anchor="middle" class="cj" >热</text>
<text x="447" y="171.8" font-size="15" text-anchor="middle" class="cj" >器</text>
<text x="573.4" y="258.8" font-size="15" text-anchor="middle" class="cj" >汽</text>
<text x="573.4" y="274.8" font-size="15" text-anchor="middle" class="cj" >水</text>
<text x="573.4" y="290.4" font-size="15" text-anchor="middle" class="cj" >分</text>
<text x="573.4" y="306.2" font-size="15" text-anchor="middle" class="cj" >离</text>
<text x="573.4" y="321.8" font-size="15" text-anchor="middle" class="cj" >器</text>
<text x="635.2" y="383.8" font-size="15" text-anchor="middle" class="cj" >冷</text>
<text x="635.2" y="399.4" font-size="15" text-anchor="middle" class="cj" >凝</text>
<text x="635.2" y="414.4" font-size="15" text-anchor="middle" class="cj" >水</text>
<text x="635.2" y="430.0" font-size="15" text-anchor="middle" class="cj" >出</text>
<text x="635.2" y="445.4" font-size="15" text-anchor="middle" class="cj" >口</text>
<text x="506.8" y="231.5" font-size="9.6" text-anchor="middle" class="cjs" >物</text>
<text x="506.8" y="242.1" font-size="9.6" text-anchor="middle" class="cjs" >料</text>
<text x="506.8" y="252.7" font-size="9.6" text-anchor="middle" class="cjs" >出</text>
<text x="506.8" y="263.3" font-size="9.6" text-anchor="middle" class="cjs" >口</text>
<text x="392.8" y="61.4" font-size="15.2" text-anchor="start" class="cj" >三效蒸发室</text>
<text x="597" y="41.4" font-size="15" text-anchor="start" class="cj" >预热器</text>
<text x="597.8" y="74.6" font-size="15.4" text-anchor="start" class="cj" >冷却水进口</text>
<text x="632.8" y="96.6" font-size="15.4" text-anchor="start" class="cj" >冷却水出口</text>
<text x="657" y="125.4" font-size="15" text-anchor="start" class="cj" >冷凝器</text>
<text x="91.2" y="236" font-size="15.5" text-anchor="start" class="cj" >蒸汽出口</text>
<text x="83.2" y="378.6" font-size="15.4" text-anchor="start" class="cj" >冷却水出口</text>
<text x="469" y="345.4" font-size="15" text-anchor="start" class="cj" >出料泵</text>
<text x="432.8" y="430.6" font-size="15.3" text-anchor="start" class="cj" >强制循环泵</text>
<text x="496.8" y="415" font-size="15.2" text-anchor="start" class="cj" >蒸汽出口</text>
<text x="552" y="465.4" font-size="15.3" text-anchor="start" class="cj" >排水泵</text>
<text x="652.4" y="450.6" font-size="15" text-anchor="start" class="cj" >真空泵</text>
<text x="680.6" y="364" font-size="15" text-anchor="start" class="cj" >真空口</text>
<text x="489.6" y="328.6" font-size="12.5" class="pmp" fill="#2a2a2a" stroke="#2a2a2a" stroke-width="0.45" textLength="26" lengthAdjust="spacingAndGlyphs">PMP02</text>
<text x="456" y="415.6" font-size="12.5" class="pmp" fill="#888" stroke="#888" stroke-width="0.45" textLength="25" lengthAdjust="spacingAndGlyphs">PMP01</text>
<text x="562" y="448" font-size="12.5" class="pmp" fill="#888" stroke="#888" stroke-width="0.45" textLength="25" lengthAdjust="spacingAndGlyphs">PMP04</text>
<text x="597" y="432" font-size="12.5" class="pmp" fill="#444" stroke="#444" stroke-width="0.45" textLength="25.4" lengthAdjust="spacingAndGlyphs">PMP04</text>
<text x="653" y="433" font-size="12.5" class="pmp" fill="#999" stroke="#999" stroke-width="0.45" textLength="25" lengthAdjust="spacingAndGlyphs">PMP05</text>
</g>
</svg>
</body></html>
